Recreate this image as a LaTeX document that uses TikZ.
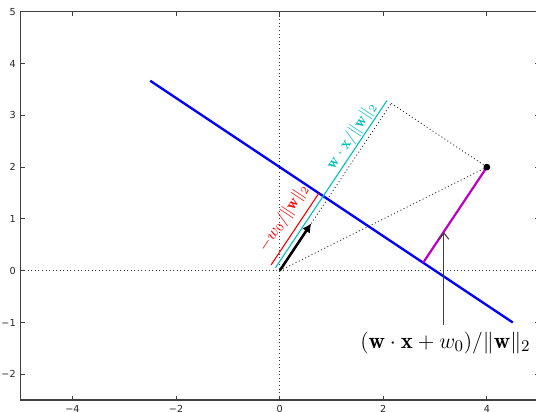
\documentclass[tikz,border=0pt]{standalone}
\usepackage{amsmath,amssymb}
\usepackage{fontspec}
\setsansfont{DejaVu Sans}
\usetikzlibrary{arrows.meta, positioning}

\definecolor{mplblue}{rgb}{0,0,1}
\definecolor{mplcyan}{rgb}{0,0.75,0.75}
\definecolor{mplmagenta}{rgb}{0.75,0,0.75}

\begin{document}
\begin{tikzpicture}[
            x=1cm, y=1cm,
            every node/.style={font=\small},
            spine/.style={draw=black!75, line width=0.8pt},
            tickmark/.style={black!75, line width=0.5pt},
            ticklabel/.style={
                font=\sffamily\fontsize{5.3}{6}\selectfont,
                text=black!85,
                inner sep=0pt
            },
            guide/.style={black!80, line width=0.5pt, dash pattern=on 0.55pt off 1.4pt},
            hplane/.style={mplblue, line width=1.3pt},
            offset/.style={line width=0.6pt},
            slopelabel/.style={
                rotate=56.31,
                inner sep=0pt,
                font=\fontsize{9}{10}\selectfont
            },
            arrow/.style={-{Latex[length=5pt, width=5pt]}, line width=1.4pt},
            annot/.style={-{Straight Barb[length=3.5pt, width=5.5pt]}, black!75, line width=0.6pt}
        ]
        \useasboundingbox (-5.400,-2.728) rectangle (4.948,5.226);

        % Frame and ticks
        \draw[spine] (-5,-2.5) rectangle (5,5);
        \foreach \x/\t in {-4/−4, -2/−2, 0/0, 2/2, 4/4} {
            \draw[tickmark] (\x,-2.5) -- ++(0,0.077);
            \draw[tickmark] (\x,5) -- ++(0,-0.077);
            \node[ticklabel, anchor=north] (xl\x) at (\x,-2.593) {\t};
        }
        \foreach \y/\t in {-2/−2, -1/−1, 0/0, 1/1, 2/2, 3/3, 4/4, 5/5} {
            \draw[tickmark] (-5,\y) -- ++(0.077,0);
            \draw[tickmark] (5,\y) -- ++(-0.077,0);
            \node[ticklabel, anchor=east] (yl\y) at (-5.09,\y) {\t};
        }

        % Axes through the origin
        \draw[guide] (-5,0) -- (5,0);
        \draw[guide] (0,-2.5) -- (0,5);

        % Points
        \coordinate (O) at (0,0);
        \coordinate (X) at (4,2);
        \coordinate (P) at (2.15385,3.23077);
        \coordinate (F) at (2.76923,0.15385);
        \coordinate (hA) at (-2.5,3.66667);
        \coordinate (hB) at (4.5,-1);
        \coordinate (wtip) at (0.61,0.915);

        % Projections
        \draw[guide] (O) -- (X);
        \draw[guide] (O) -- (P);
        \draw[guide] (P) -- (X);

        % Hyperplane
        \draw[hplane] (hA) -- (hB);

        % Offset segments
        \coordinate (c0) at (-0.08321,0.05547);
        \coordinate (c1) at (2.07064,3.28624);
        \coordinate (r0) at (-0.16641,0.11094);
        \coordinate (r1) at (0.75667,1.49556);
        \draw[offset, mplcyan] (c0) -- (c1);
        \draw[offset, red] (r0) -- (r1);
        \node[slopelabel, text=red] (w0lab) at (0.078,1.017) {$-w_0/\|\mathbf{w}\|_2$};
        \node[slopelabel, text=mplcyan] (wxlab) at (1.39,2.604) {$\mathbf{w}\cdot\mathbf{x}/\|\mathbf{w}\|_2$};

        % Normal vector and distance
        \draw[arrow] (O) -- (wtip);
        \draw[mplmagenta, line width=1.2pt] (X) -- (F);
        \fill (X) circle (0.065);

        % Annotation
        \coordinate (tip) at (3.17,0.745);
        \node[inner xsep=0pt, inner ysep=0.13cm, font=\fontsize{12.5}{14}\selectfont] (dist) at (3.2,-1.395)
            {$(\mathbf{w}\cdot\mathbf{x}+w_0)/\|\mathbf{w}\|_2$};
        \draw[annot] (dist.north -| tip) -- (tip);

        \end{tikzpicture}
\end{document}
